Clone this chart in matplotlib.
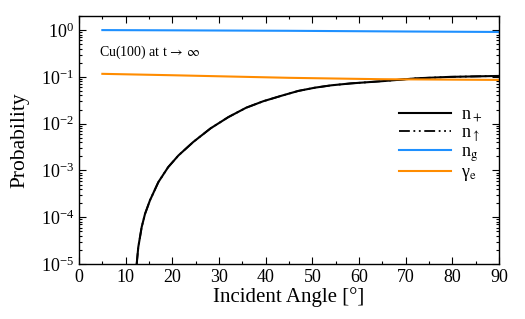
import numpy as np
import matplotlib
matplotlib.use("Agg")
import matplotlib.pyplot as plt
from matplotlib.ticker import LogLocator, MultipleLocator, NullFormatter

plt.rcParams['font.family'] = ['Liberation Serif', 'DejaVu Serif']
plt.rcParams['mathtext.fontset'] = 'stix'

# n_+ (black), log10 values
angle_plus = [12.36, 12.7, 13.43, 14.14, 15.2, 17.0, 19.1, 21.3, 24.5, 28.2, 32.0, 35.8,
              39.5, 43.5, 47.0, 50.6, 54.1, 58.2, 65.2, 72.4, 79.5, 90.0]
log_n_plus = [-5.0, -4.64, -4.21, -3.93, -3.64, -3.25, -2.93, -2.68, -2.39, -2.10, -1.86,
              -1.66, -1.52, -1.40, -1.30, -1.23, -1.18, -1.14, -1.09, -1.03, -1.00, -0.98]
# n_up (not visible; coincides with n_+)
angle_up = angle_plus
log_n_up = log_n_plus
# n_g (blue)
angle_g = [5, 20, 45, 70, 90]
log_n_g = [0.0, -0.005, -0.015, -0.03, -0.04]
# gamma_e (orange)
angle_e = [5, 20, 29, 45, 58, 65, 90]
log_gamma_e = [-0.935, -0.965, -0.985, -1.02, -1.04, -1.05, -1.065]

fig = plt.figure(figsize=(5.25, 3.19), dpi=100)
ax = fig.add_axes([0.1505, 0.1724, 0.8, 0.7774])

ax.plot(angle_up, 10 ** np.array(log_n_up), color='black', lw=1.3,
        dashes=[6, 2, 1, 2, 1, 2], label=r'n$_\uparrow$')
ax.plot(angle_plus, 10 ** np.array(log_n_plus), color='black', lw=1.5, label=r'n$_+$')
ax.plot(angle_g, 10 ** np.array(log_n_g), color='#1e90ff', lw=1.5, label=r'n$_\mathrm{g}$')
ax.plot(angle_e, 10 ** np.array(log_gamma_e), color='#ff8c00', lw=1.5, label='γ$_\\mathrm{e}$')

ax.set_yscale('log')
ax.set_xlim(0, 90)
ax.set_ylim(1e-5, 2)
ax.xaxis.set_major_locator(MultipleLocator(10))
ax.xaxis.set_minor_locator(MultipleLocator(5))
ax.yaxis.set_major_locator(LogLocator(base=10, numticks=10))
ax.yaxis.set_minor_locator(LogLocator(base=10, subs=np.arange(2, 10), numticks=20))
ax.yaxis.set_minor_formatter(NullFormatter())
ax.tick_params(which='both', direction='in', top=True, right=True, labelsize=13, width=0.8)
ax.tick_params(which='major', length=5)
ax.tick_params(which='minor', length=2.5)
for s in ax.spines.values():
    s.set_linewidth(1.0)

ax.set_xlabel('Incident Angle [°]', fontsize=15, labelpad=1)
ax.set_ylabel('Probability', fontsize=15.5, labelpad=8)

ax.text(4.3, 0.33, r'Cu(100) at t$\,\rightarrow\,\infty$', fontsize=10, va='center', ha='left')

h, l = ax.get_legend_handles_labels()
order = [1, 0, 2, 3]
ax.legend([h[i] for i in order], [l[i] for i in order], loc='upper left',
          bbox_to_anchor=(0.745, 0.665), frameon=False, fontsize=13,
          handlelength=2.85, handletextpad=0.55, labelspacing=0.0, borderaxespad=0)

fig.savefig('out.png', dpi=100)
